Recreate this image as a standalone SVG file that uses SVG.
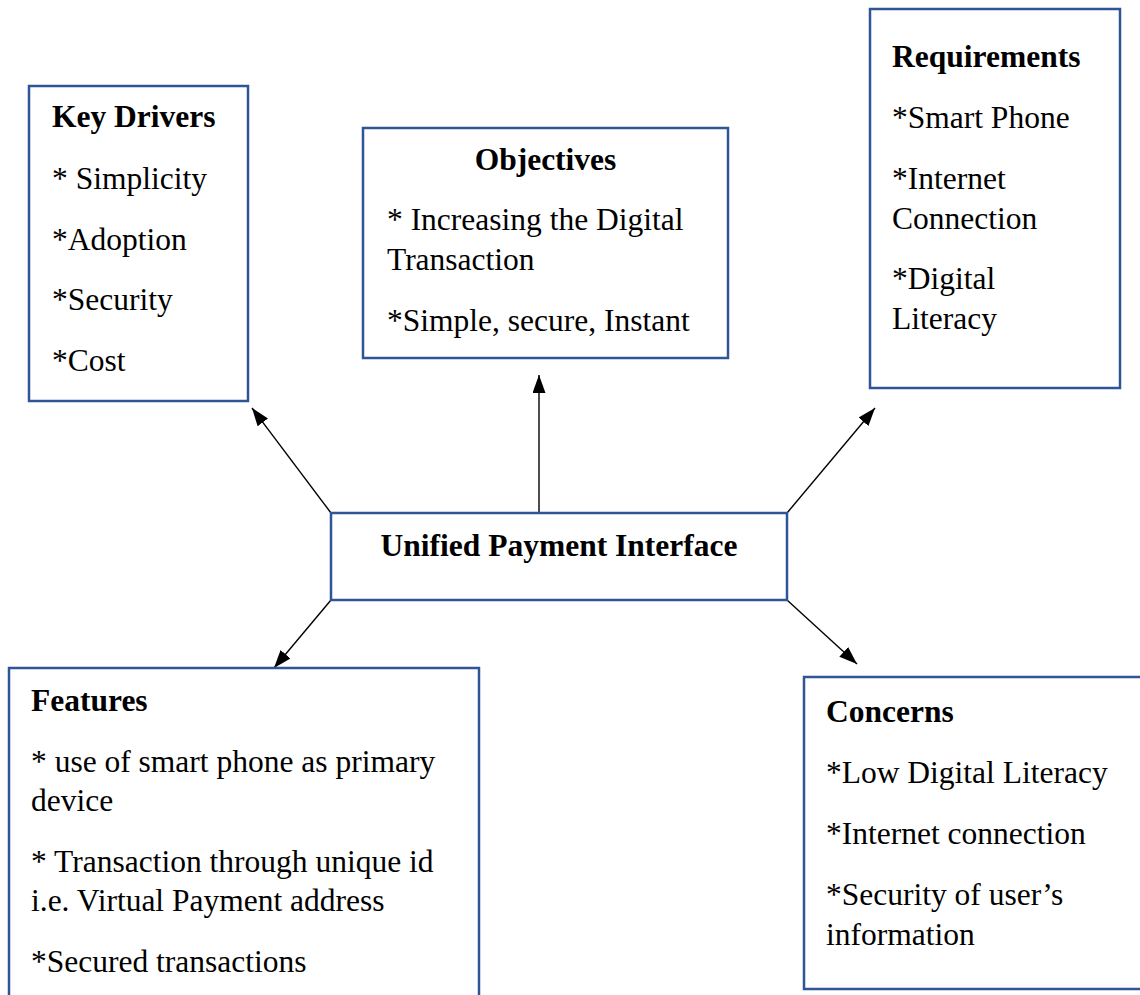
<svg xmlns="http://www.w3.org/2000/svg" width="1140" height="995" viewBox="0 0 1140 995">
<defs>
<style>
.box{fill:#ffffff;stroke:#2f5597;stroke-width:2.5}
.t{font-family:"Liberation Serif","Times New Roman",serif;font-size:31.5px;fill:#000}
.b{font-weight:bold}
.c{stroke:#000;stroke-width:1.4;fill:none}
</style>
<marker id="ah" viewBox="0 0 18 13" refX="18" refY="6.5" markerWidth="18" markerHeight="13" markerUnits="userSpaceOnUse" orient="auto">
<path d="M0,0 L18,6.5 L0,13 z" fill="#000"/>
</marker>
</defs>
<rect width="1140" height="995" fill="#ffffff"/>
<g id="connectors">
<line class="c" x1="331" y1="513" x2="252" y2="408" marker-end="url(#ah)"/>
<line class="c" x1="539" y1="515" x2="539" y2="375" marker-end="url(#ah)"/>
<line class="c" x1="787" y1="513" x2="875" y2="408" marker-end="url(#ah)"/>
<line class="c" x1="331" y1="600" x2="274" y2="668" marker-end="url(#ah)"/>
<line class="c" x1="787" y1="600" x2="857" y2="664" marker-end="url(#ah)"/>
</g>
<g id="key-drivers">
<rect class="box" x="29" y="86" width="219" height="315"/>
<text class="t b" x="52" y="127">Key Drivers</text>
<text class="t" x="52" y="189">* Simplicity</text>
<text class="t" x="52" y="250">*Adoption</text>
<text class="t" x="52" y="310">*Security</text>
<text class="t" x="52" y="371">*Cost</text>
</g>
<g id="objectives">
<rect class="box" x="363" y="128" width="365" height="230"/>
<text class="t b" x="545.5" y="170" text-anchor="middle">Objectives</text>
<text class="t" x="387" y="230">* Increasing the Digital</text>
<text class="t" x="387" y="270">Transaction</text>
<text class="t" x="387" y="331">*Simple, secure, Instant</text>
</g>
<g id="requirements">
<rect class="box" x="870" y="9" width="250" height="379"/>
<text class="t b" x="892" y="67">Requirements</text>
<text class="t" x="892" y="128">*Smart Phone</text>
<text class="t" x="892" y="189">*Internet</text>
<text class="t" x="892" y="229">Connection</text>
<text class="t" x="892" y="289">*Digital</text>
<text class="t" x="892" y="329">Literacy</text>
</g>
<g id="upi">
<rect class="box" x="331" y="513" width="456" height="87"/>
<text class="t b" x="559" y="556" text-anchor="middle">Unified Payment Interface</text>
</g>
<g id="features">
<rect class="box" x="9" y="668" width="470" height="340"/>
<text class="t b" x="31" y="711">Features</text>
<text class="t" x="31" y="772">* use of smart phone as primary</text>
<text class="t" x="31" y="811">device</text>
<text class="t" x="31" y="872">* Transaction through unique id</text>
<text class="t" x="31" y="911">i.e. Virtual Payment address</text>
<text class="t" x="31" y="972">*Secured transactions</text>
</g>
<g id="concerns">
<rect class="box" x="804" y="677" width="345" height="312"/>
<text class="t b" x="826" y="722">Concerns</text>
<text class="t" x="826" y="783">*Low Digital Literacy</text>
<text class="t" x="826" y="844">*Internet connection</text>
<text class="t" x="826" y="905">*Security of user’s</text>
<text class="t" x="826" y="945">information</text>
</g>
</svg>
